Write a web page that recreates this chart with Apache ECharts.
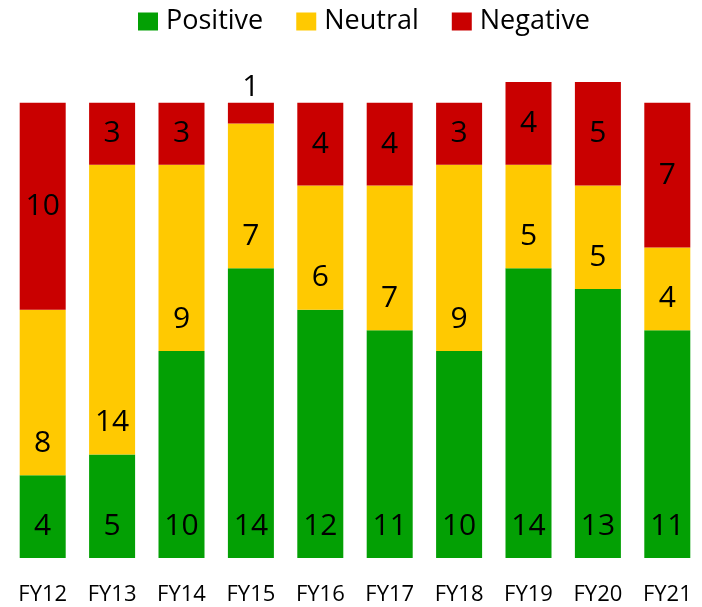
<!DOCTYPE html>
<html>
<head>
<meta charset="utf-8">
<script src="https://cdn.jsdelivr.net/npm/echarts@6/dist/echarts.min.js"></script>
<style>
  html, body { margin: 0; padding: 0; background: #ffffff; }
  #chart { width: 702px; height: 607px; }
</style>
</head>
<body>
<div id="chart"></div>
<script>
// Sentiment counts per fiscal year
const years = ['FY12', 'FY13', 'FY14', 'FY15', 'FY16', 'FY17', 'FY18', 'FY19', 'FY20', 'FY21'];
const positive = [4, 5, 10, 14, 12, 11, 10, 14, 13, 11];
const neutral  = [8, 14, 9, 7, 6, 7, 9, 5, 5, 4];
const negative = [10, 3, 3, 1, 4, 4, 3, 4, 5, 7];

const FONT = '"Open Sans", "Liberation Sans", sans-serif';
const colors = { Positive: '#03a004', Neutral: '#ffc901', Negative: '#c90000' };

// Segment labels sit near the bottom of green/yellow segments,
// centred in red ones; tiny segments put their label above the bar.
function segment(name, values, pos) {
  return {
    name: name,
    type: 'bar',
    stack: 'total',
    barWidth: 46,
    itemStyle: { color: colors[name] },
    data: values.map(v => {
      const item = { value: v };
      if (v < 2) {
        item.label = { position: 'top', distance: 0 };
      }
      return item;
    }),
    label: {
      show: true,
      position: pos,
      distance: pos === 'insideBottom' ? 17 : 5,
      color: '#000',
      fontSize: 30,
      fontFamily: FONT
    }
  };
}

const chart = echarts.init(document.getElementById('chart'), null, { renderer: 'canvas' });
chart.setOption({
  animation: false,
  legend: {
    top: 3,
    left: 133,
    itemWidth: 20,
    itemHeight: 18,
    itemGap: 33,
    icon: 'rect',
    textStyle: { fontSize: 27, fontFamily: FONT, color: '#000', padding: [0, 0, 0, 3] },
    data: ['Positive', 'Neutral', 'Negative']
  },
  grid: { left: 8, right: 0, top: 82, bottom: 49, containLabel: false },
  xAxis: {
    type: 'category',
    data: years,
    axisLine: { show: false },
    axisTick: { show: false },
    axisLabel: { fontSize: 22, fontFamily: FONT, color: '#000', margin: 26 }
  },
  yAxis: {
    type: 'value',
    min: 0,
    max: 23,
    show: false,
    splitLine: { show: false }
  },
  series: [
    segment('Positive', positive, 'insideBottom'),
    segment('Neutral', neutral, 'insideBottom'),
    segment('Negative', negative, 'inside')
  ]
});
</script>
</body>
</html>
